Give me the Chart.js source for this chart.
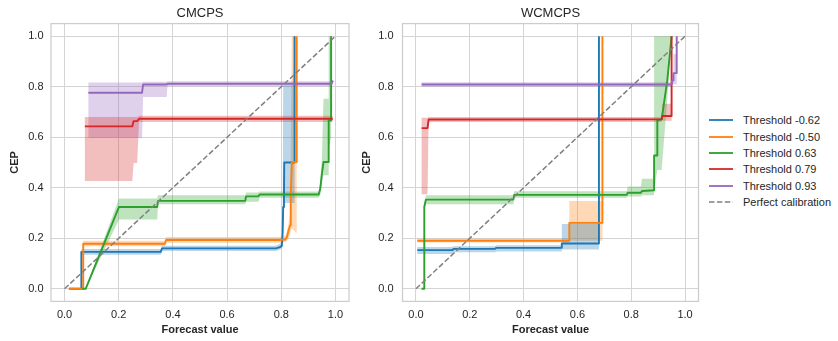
<!DOCTYPE html>
<html>
<head>
<meta charset="utf-8">
<script src="https://cdn.jsdelivr.net/npm/chart.js@4.4.1/dist/chart.umd.min.js"></script>
<style>
  html, body { margin: 0; padding: 0; background: #ffffff; }
  #wrap { position: relative; width: 838px; height: 341px; overflow: hidden;
          font-family: 'Liberation Sans', Arial, sans-serif; }
  #wrap canvas { position: absolute; top: 0; }
  #legend { position: absolute; left: 709px; top: 112px; font-size: 11px; color: #262626; }
  .row { height: 16.4px; display: flex; align-items: center; white-space: nowrap; }
  .row svg { margin-right: 10px; flex: none; }
</style>
</head>
<body>
<div id="wrap">
  <canvas id="cmcps" width="351" height="341" style="left:0px"></canvas>
  <canvas id="wcmcps" width="350" height="341" style="left:350px"></canvas>
  <div id="legend"></div>
</div>
<script>
// Series names and colours (one per threshold)
const LABELS = ['Threshold -0.62', 'Threshold -0.50', 'Threshold 0.63', 'Threshold 0.79', 'Threshold 0.93'];
const COLORS = ['#1f77b4', '#ff7f0e', '#2ca02c', '#d62728', '#9467bd'];
const BANDS  = ['rgba(31,119,180,0.3)', 'rgba(255,127,14,0.3)', 'rgba(44,160,44,0.3)',
                'rgba(214,39,40,0.3)', 'rgba(148,103,189,0.3)'];
const DIAG_LABEL = 'Perfect calibration';

// Axis ticks
const X_TICKS = [0.0, 0.2, 0.4, 0.6, 0.8, 1.0];
const Y_TICKS = [0.0, 0.2, 0.4, 0.6, 0.8, 1.0];
const DIAG = [0, 1];

// CMCPS reliability curves, rows: [forecast value, CEP, lower bound, upper bound]
const cmcps_m062 = [
  [0.016, 0.000, 0.000, 0.000], [0.062, 0.000, 0.000, 0.000], [0.062, 0.146, 0.135, 0.157],
  [0.355, 0.146, 0.135, 0.157], [0.360, 0.160, 0.150, 0.170], [0.780, 0.160, 0.150, 0.170],
  [0.795, 0.165, 0.155, 0.178], [0.802, 0.170, 0.160, 0.190], [0.805, 0.219, 0.180, 0.250],
  [0.807, 0.324, 0.250, 0.805], [0.810, 0.377, 0.300, 0.805], [0.811, 0.500, 0.340, 0.805],
  [0.845, 0.500, 0.340, 0.805], [0.849, 0.500, 0.340, 1.000], [0.849, 1.000, 1.000, 1.000]
];
const cmcps_m050 = [
  [0.016, 0.000, 0.000, 0.000], [0.069, 0.000, 0.000, 0.000], [0.069, 0.178, 0.168, 0.190],
  [0.370, 0.178, 0.168, 0.190], [0.375, 0.193, 0.182, 0.205], [0.790, 0.193, 0.182, 0.205],
  [0.815, 0.195, 0.185, 0.210], [0.821, 0.205, 0.190, 0.225], [0.827, 0.232, 0.200, 0.260],
  [0.833, 0.252, 0.215, 0.300], [0.835, 0.377, 0.230, 0.600], [0.839, 0.502, 0.240, 1.000],
  [0.857, 0.502, 0.220, 1.000], [0.857, 1.000, 1.000, 1.000]
];
const cmcps_p063 = [
  [0.065, 0.000, 0.000, 0.000], [0.078, 0.000, 0.000, 0.000], [0.201, 0.324, 0.274, 0.357],
  [0.342, 0.324, 0.274, 0.357], [0.345, 0.348, 0.335, 0.370], [0.667, 0.348, 0.335, 0.370],
  [0.670, 0.366, 0.345, 0.381], [0.716, 0.366, 0.345, 0.381], [0.720, 0.373, 0.360, 0.385],
  [0.938, 0.373, 0.360, 0.385], [0.944, 0.397, 0.370, 0.420], [0.950, 0.456, 0.420, 0.520],
  [0.956, 0.502, 0.450, 0.752], [0.975, 0.502, 0.450, 0.752], [0.975, 0.667, 0.550, 1.000],
  [0.984, 0.667, 0.600, 1.000], [0.984, 1.000, 1.000, 1.000]
];
const cmcps_p079 = [
  [0.075, 0.643, 0.427, 0.680], [0.250, 0.643, 0.427, 0.680], [0.255, 0.664, 0.498, 0.680],
  [0.268, 0.664, 0.498, 0.680], [0.275, 0.673, 0.660, 0.685], [0.990, 0.673, 0.660, 0.685]
];
const cmcps_p093 = [
  [0.088, 0.776, 0.598, 0.817], [0.286, 0.776, 0.598, 0.817], [0.290, 0.809, 0.759, 0.820],
  [0.377, 0.809, 0.759, 0.820], [0.380, 0.812, 0.802, 0.822], [0.985, 0.812, 0.802, 0.822],
  [0.991, 0.824, 0.810, 0.830]
];

// WCMCPS reliability curves, rows: [forecast value, CEP, lower bound, upper bound]
const wcmcps_m062 = [
  [0.005, 0.153, 0.138, 0.165], [0.136, 0.153, 0.138, 0.165], [0.140, 0.158, 0.145, 0.168],
  [0.294, 0.158, 0.145, 0.168], [0.298, 0.162, 0.148, 0.172], [0.542, 0.162, 0.148, 0.172],
  [0.542, 0.179, 0.156, 0.256], [0.680, 0.179, 0.156, 0.256], [0.680, 1.000, 1.000, 1.000]
];
const wcmcps_m050 = [
  [0.005, 0.190, 0.183, 0.198], [0.570, 0.190, 0.183, 0.198], [0.570, 0.261, 0.190, 0.348],
  [0.693, 0.261, 0.190, 0.348], [0.693, 1.000, 1.000, 1.000]
];
const wcmcps_p063 = [
  [0.021, 0.000, 0.000, 0.000], [0.030, 0.000, 0.000, 0.000], [0.031, 0.325, 0.310, 0.340],
  [0.037, 0.353, 0.335, 0.370], [0.362, 0.353, 0.335, 0.370], [0.365, 0.372, 0.360, 0.386],
  [0.783, 0.372, 0.360, 0.386], [0.787, 0.380, 0.365, 0.405], [0.836, 0.380, 0.365, 0.405],
  [0.840, 0.387, 0.370, 0.436], [0.885, 0.390, 0.370, 0.436], [0.885, 0.528, 0.390, 1.000],
  [0.896, 0.528, 0.470, 1.000], [0.897, 0.667, 0.470, 1.000], [0.913, 0.671, 0.470, 1.000],
  [0.934, 0.825, 0.750, 1.000], [0.950, 1.000, 1.000, 1.000]
];
const wcmcps_p079 = [
  [0.021, 0.636, 0.374, 0.677], [0.043, 0.636, 0.374, 0.677], [0.047, 0.670, 0.660, 0.680],
  [0.913, 0.671, 0.660, 0.680], [0.915, 0.684, 0.665, 0.733], [0.950, 0.684, 0.665, 0.733],
  [0.950, 1.000, 1.000, 1.000]
];
const wcmcps_p093 = [
  [0.021, 0.809, 0.800, 0.818], [0.950, 0.809, 0.800, 0.818], [0.952, 0.825, 0.810, 0.850],
  [0.957, 0.825, 0.810, 0.850], [0.957, 0.854, 0.810, 0.930], [0.969, 0.854, 0.810, 0.930],
  [0.969, 1.000, 1.000, 1.000]
];

Chart.defaults.font.family = "'Liberation Sans', Arial, sans-serif";
Chart.defaults.font.size = 11;
Chart.defaults.color = '#262626';

// Light frame round the plotting area
const framePlugin = {
  id: 'frame',
  beforeDatasetsDraw(chart) {
    const { ctx, chartArea: a } = chart;
    ctx.save();
    ctx.strokeStyle = '#cccccc';
    ctx.lineWidth = 1.25;
    ctx.strokeRect(a.left, a.top, a.right - a.left, a.bottom - a.top);
    ctx.restore();
  }
};

function lineDataset(rows, color) {
  return {
    data: rows.map(r => ({ x: r[0], y: r[1] })),
    borderColor: color, borderWidth: 1.9, borderJoinStyle: 'round',
    pointRadius: 0, fill: false, tension: 0
  };
}

// Confidence band: upper bound forwards, lower bound backwards, filled as one shape
function bandDataset(rows, color) {
  const upper = rows.map(r => ({ x: r[0], y: r[3] }));
  const lower = rows.slice().reverse().map(r => ({ x: r[0], y: r[2] }));
  return {
    data: upper.concat(lower),
    borderWidth: 0, borderColor: 'rgba(0,0,0,0)', backgroundColor: color,
    pointRadius: 0, fill: 'shape', tension: 0
  };
}

function makeChart(id, title, series, axisWidth, rightPad, yTitlePad, tickPad) {
  const lines = [];
  for (let i = series.length - 1; i >= 0; i--) lines.push(lineDataset(series[i], COLORS[i]));
  const bands = series.map((s, i) => bandDataset(s, BANDS[i]));
  const diag = {
    data: DIAG.map(v => ({ x: v, y: v })),
    borderColor: '#808080', borderWidth: 1.5, borderDash: [5.5, 2.4],
    pointRadius: 0, fill: false
  };
  return new Chart(document.getElementById(id), {
    type: 'line',
    data: { datasets: [diag].concat(lines, bands) },
    options: {
      responsive: false, animation: false, events: [],
      layout: { padding: { left: 0, right: rightPad, top: 0, bottom: 0 } },
      plugins: {
        legend: { display: false }, tooltip: { enabled: false },
        title: { display: true, text: title, fullSize: false, color: '#262626',
                 font: { size: 13, weight: 'normal' }, padding: { top: 5.5, bottom: 2.5 } }
      },
      scales: {
        x: {
          type: 'linear', min: -0.05, max: 1.05,
          afterBuildTicks: s => { s.ticks = X_TICKS.map(v => ({ value: v })); },
          afterFit: s => { s.height = 39.6; },
          ticks: { padding: 6.5, color: '#262626', callback: v => v.toFixed(1) },
          grid: { color: '#d4d4d4', lineWidth: 1, drawTicks: false },
          border: { display: false },
          title: { display: true, text: 'Forecast value', color: '#262626',
                   font: { size: 11, weight: 'bold' }, padding: { top: 0, bottom: 4 } }
        },
        y: {
          type: 'linear', min: -0.05, max: 1.05,
          afterBuildTicks: s => { s.ticks = Y_TICKS.map(v => ({ value: v })); },
          afterFit: s => { s.width = axisWidth; },
          ticks: { padding: tickPad, color: '#262626', callback: v => v.toFixed(1) },
          grid: { color: '#d4d4d4', lineWidth: 1, drawTicks: false },
          border: { display: false },
          title: { display: true, text: 'CEP', color: '#262626',
                   font: { size: 11, weight: 'bold' }, padding: { top: yTitlePad, bottom: 0 } }
        }
      }
    },
    plugins: [framePlugin]
  });
}

makeChart('cmcps', 'CMCPS', [cmcps_m062, cmcps_m050, cmcps_p063, cmcps_p079, cmcps_p093], 51, 2, 8.4, 7.5);
makeChart('wcmcps', 'WCMCPS', [wcmcps_m062, wcmcps_m050, wcmcps_p063, wcmcps_p079, wcmcps_p093], 52.5, 1.5, 10, 9);

// Legend shared by both panels
const legend = document.getElementById('legend');
const entries = LABELS.map((t, i) => ({ text: t, color: COLORS[i], dash: '' }))
  .concat([{ text: DIAG_LABEL, color: '#808080', dash: '5.5 2.4' }]);
entries.forEach(e => {
  const row = document.createElement('div');
  row.className = 'row';
  row.innerHTML = '<svg width="24" height="6"><line x1="0" y1="3" x2="24" y2="3" stroke="' + e.color +
    '" stroke-width="' + (e.dash ? 1.5 : 1.8) + '"' + (e.dash ? ' stroke-dasharray="' + e.dash + '"' : '') +
    '/></svg><span></span>';
  row.querySelector('span').textContent = e.text;
  legend.appendChild(row);
});
</script>
</body>
</html>
